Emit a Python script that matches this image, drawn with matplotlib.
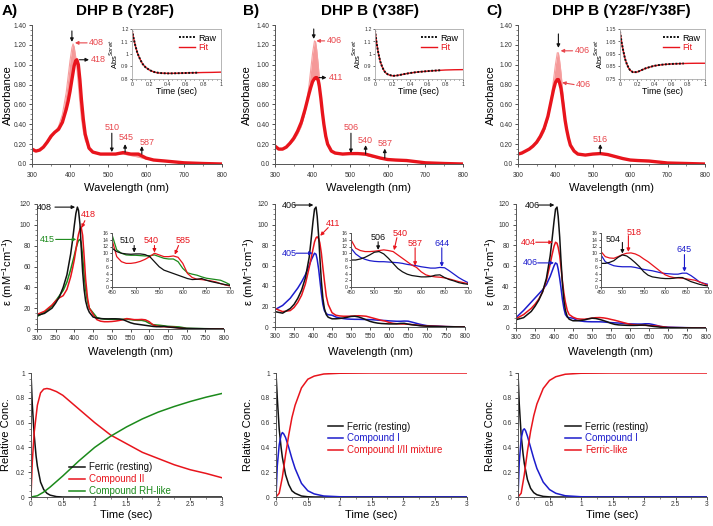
import matplotlib
matplotlib.use('Agg')

import matplotlib.pyplot as plt
from matplotlib.ticker import MultipleLocator

plt.rcParams['font.family'] = ['Liberation Sans', 'DejaVu Sans']
plt.rcParams['mathtext.fontset'] = 'custom'
plt.rcParams['mathtext.rm'] = 'Liberation Sans'

W, H = 713, 526

# ---------------- data ----------------
panel_letters = ['A)', 'B)', 'C)']
panel_titles = ['DHP B (Y28F)', 'DHP B (Y38F)', 'DHP B (Y28F/Y38F)']

# stopped-flow spectra (first and last trace)
wl_top = [300, 310, 320, 330, 340, 350, 360, 370, 380, 390,
          395, 400, 405, 408, 411, 415, 418, 422, 426, 430,
          435, 440, 450, 460, 480, 500, 520, 540, 560, 580,
          600, 620, 650, 700, 750, 800]
abs_a_first = [.15, .13, .14, .17, .21, .26, .32, .38, .50, .72,
               .88, 1.04, 1.17, 1.21, 1.18, 1.08, .97, .80, .62, .46,
               .33, .24, .15, .12, .10, .10, .10, .10, .085, .07,
               .05, .04, .03, .012, .005, 0]
abs_a_last = [.15, .13, .14, .17, .22, .28, .32, .35, .42, .55,
              .63, .73, .85, .92, .99, 1.04, 1.05, 1.00, .85, .65,
              .45, .30, .16, .12, .10, .10, .10, .115, .10, .10,
              .06, .04, .03, .012, .005, 0]
abs_b_first = [.18, .15, .15, .17, .20, .24, .30, .38, .52, .78,
               .95, 1.12, 1.24, 1.23, 1.15, 1.00, .86, .66, .50, .37,
               .26, .19, .13, .11, .10, .10, .10, .09, .07, .055,
               .04, .035, .03, .01, .005, 0]
abs_b_last = [.18, .15, .15, .17, .21, .26, .33, .42, .55, .70,
              .77, .83, .86, .87, .87, .84, .78, .66, .52, .40,
              .28, .20, .13, .11, .10, .105, .105, .10, .08, .06,
              .045, .04, .035, .012, .005, 0]
abs_c_first = [.10, .11, .13, .15, .18, .21, .26, .33, .46, .70,
               .85, 1.00, 1.12, 1.12, 1.05, .92, .80, .62, .47, .36,
               .26, .19, .13, .10, .09, .10, .10, .09, .07, .05,
               .04, .035, .03, .01, .005, 0]
abs_c_last = [.10, .11, .13, .15, .18, .22, .28, .36, .48, .66,
              .75, .82, .85, .85, .82, .76, .68, .56, .44, .35,
              .26, .19, .13, .10, .09, .10, .105, .095, .075, .055,
              .04, .035, .03, .01, .005, 0]

abs_ticks = [0, 0.2, 0.4, 0.6, 0.8, 1.0, 1.2, 1.4]
abs_tick_labels = ['0.0', '0.20', '0.40', '0.60', '0.80', '1.00', '1.20', '1.40']

# Soret kinetic traces (insets)
t_raw = [0, .02, .04, .06, .08, .1, .12, .15, .2, .25, .3, .35, .4, .45, .5,
         .55, .6, .65, .7, .75]
soret_a_raw = [1.19, 1.12, 1.06, 1.01, .975, .945, .92, .895, .87, .856, .849,
               .846, .845, .845, .846, .847, .848, .849, .85, .851]
soret_b_raw = [1.19, 1.08, 1.0, .94, .90, .87, .85, .835, .825, .828, .835,
               .842, .848, .853, .857, .860, .863, .866, .868, .870]
soret_c_raw = [1.13, 1.04, .97, .91, .87, .84, .82, .805, .805, .82, .835,
               .846, .855, .861, .865, .868, .870, .872, .873, .874]
t_fit = [0, .02, .04, .06, .08, .1, .12, .15, .2, .25, .3, .4, .5, .6, .7, .8, .9, 1.0]
soret_a_fit = [1.19, 1.12, 1.06, 1.01, .975, .945, .92, .895, .87, .855, .848,
               .845, .846, .848, .85, .852, .853, .855]
soret_b_fit = [1.19, 1.08, 1.0, .94, .90, .87, .85, .835, .825, .828, .835,
               .848, .857, .863, .868, .872, .874, .875]
soret_c_fit = [1.13, 1.04, .97, .91, .87, .84, .82, .805, .805, .82, .835,
               .855, .865, .870, .873, .875, .876, .876]
soret_ylims = [(0.8, 1.2), (0.8, 1.2), (0.75, 1.15)]
soret_ticks = [[0.8, 0.9, 1.0, 1.1, 1.2], [0.8, 0.9, 1.0, 1.1, 1.2],
               [0.75, 0.85, 0.95, 1.05, 1.15]]
soret_tick_labels = [['0.8', '0.9', '1', '1.1', '1.2'], ['0.8', '0.9', '1', '1.1', '1.2'],
                     ['0.75', '0.85', '0.95', '1.05', '1.15']]

# calculated component spectra
wl_eps = [300, 320, 340, 350, 360, 370, 380, 390, 395, 400,
          404, 408, 411, 415, 418, 422, 426, 430, 435, 440,
          450, 460, 470, 480, 490, 500, 510, 520, 530, 540,
          550, 560, 570, 580, 590, 600, 610, 620, 630, 640,
          650, 660, 670, 680, 690, 700, 750, 800]
eps_a_ferric = [13, 15, 20, 25, 31, 40, 52, 72, 85, 100,
                111, 117, 114, 100, 80, 55, 38, 27, 20, 16,
                11.5, 10.5, 10, 9.8, 9.7, 9.8, 9.8, 9.6, 9, 7.5,
                6, 5, 4.5, 4, 3.5, 3, 2.5, 2.2, 2.3, 2.5,
                2, 1.6, 1.3, 1, 0.7, 0.5, 0.2, 0]
eps_a_cpd2 = [14, 17, 23, 27, 30, 32, 38, 50, 58, 67,
              76, 85, 91, 96, 98, 90, 70, 48, 30, 20,
              14, 9, 7.5, 7, 7, 7.2, 7.6, 8.2, 9, 10,
              9.5, 9, 9, 9.2, 8.8, 7, 4, 2.8, 2.3, 2.2,
              2, 1.8, 1.5, 1, 0.6, 0.3, 0.1, 0]
eps_a_rh = [12, 16, 22, 27, 32, 37, 45, 57, 64, 71,
            77, 82, 85, 86, 83, 70, 52, 38, 26, 20,
            15.5, 11, 10, 9.5, 9.4, 9.4, 9.3, 9.2, 9.3, 9.5,
            9, 8.5, 8.3, 8.3, 7.5, 5.5, 4.2, 3.8, 3.5, 3,
            2.6, 2.4, 2.2, 2, 1.4, 0.7, 0.3, 0]
eps_b_ferric = [15, 13.5, 18, 22, 28, 36, 48, 68, 85, 103,
                115, 117, 108, 88, 68, 45, 28, 18, 12, 9.5,
                8, 8, 8.3, 8.8, 9.5, 10.3, 10.5, 9.8, 8.5, 7,
                5.5, 4.5, 3.8, 3.4, 3.2, 3, 3, 3.1, 3.5, 3.6,
                2.8, 2.2, 1.8, 1.3, 1, 0.8, 0.3, 0]
eps_b_mix = [18, 15, 16, 19, 24, 31, 42, 58, 67, 76,
             83, 87, 88, 86, 82, 72, 58, 45, 30, 22,
             14, 11.5, 10.8, 10.5, 10.5, 10.6, 10.8, 11, 10.8, 10.5,
             9.5, 8.5, 7.5, 6.5, 5.8, 4.5, 3.6, 3.2, 3, 2.9,
             2.7, 2.4, 2, 1.6, 1.3, 1, 0.4, 0]
eps_b_cpd1 = [17, 21, 28, 33, 38, 44, 51, 60, 65, 69,
              72, 71, 66, 56, 46, 33, 22, 16, 13, 12,
              11.5, 9.8, 8.8, 8.2, 7.8, 7.6, 7.5, 7.5, 7.4, 7.3,
              7.2, 7, 6.7, 6.5, 6.3, 6, 5.8, 5.6, 5.6, 5.8,
              5.7, 4.8, 3.8, 2.8, 2, 1.3, 0.4, 0]
eps_c_ferric = [8, 10, 16, 21, 27, 35, 48, 70, 86, 103,
                115, 117, 108, 88, 68, 44, 27, 17, 11, 8.5,
                7, 7, 7.3, 7.8, 8.8, 9.5, 9.2, 8.3, 7.2, 6,
                4.5, 3.5, 3, 2.8, 2.6, 2.5, 2.5, 2.6, 2.8, 2.8,
                2.2, 1.6, 1.2, 0.8, 0.5, 0.3, 0.1, 0]
eps_c_flike = [9, 13, 19, 23, 28, 35, 46, 62, 71, 79,
               83, 82, 78, 70, 60, 46, 34, 25, 17, 13,
               10.5, 9, 8.6, 8.5, 9, 9.6, 10, 10.1, 9.8, 9.2,
               8.3, 7.5, 6.5, 5.5, 4.5, 3.6, 3.1, 2.8, 2.7, 2.6,
               2.4, 2.2, 2, 1.5, 1, 0.5, 0.2, 0]
eps_c_cpd1 = [10, 17, 25, 29, 33, 37, 42, 50, 55, 60,
              63, 62, 57, 48, 40, 28, 19, 13, 10.5, 10,
              9.5, 7.5, 6.8, 6.3, 6.1, 6, 6, 6, 5.8, 5.5,
              5.2, 5, 4.8, 4.5, 4.2, 4, 3.9, 3.8, 3.8, 4.1,
              4.1, 3.4, 2.5, 1.5, 1.1, 0.8, 0.3, 0]

# species concentration vs time
t_a_ferric = [0, .02, .05, .08, .1, .15, .2, .25, .3, .4, .5, 3]
conc_a_ferric = [1, .75, .5, .33, .25, .12, .06, .03, .015, .003, 0, 0]
t_a_cpd2 = [0, .02, .05, .1, .15, .2, .25, .3, .4, .5, .75, 1, 1.25, 1.5, 1.75, 2, 2.25, 2.5, 2.75, 3]
conc_a_cpd2 = [0, .28, .52, .74, .84, .87, .875, .87, .85, .82, .71, .6, .5, .43, .36, .31, .26, .22, .19, .155]
t_a_rh = [0, .1, .2, .3, .5, .75, 1, 1.25, 1.5, 1.75, 2, 2.25, 2.5, 2.75, 3]
conc_a_rh = [0, .01, .04, .08, .17, .29, .40, .49, .565, .63, .685, .73, .77, .805, .835]

t_b_ferric = [0, .02, .05, .08, .1, .15, .2, .25, .3, .4, .5, .6, 3]
conc_b_ferric = [1, .8, .55, .4, .32, .18, .1, .05, .03, .008, .002, 0, 0]
t_b_cpd1 = [0, .02, .05, .08, .1, .12, .15, .2, .25, .3, .4, .5, .6, .75, 1, 1.2, 3]
conc_b_cpd1 = [0, .25, .42, .5, .52, .51, .48, .40, .31, .23, .11, .05, .025, .008, .002, 0, 0]
t_b_mix = [0, .05, .1, .15, .2, .25, .3, .4, .5, .6, .75, 1, 1.5, 3]
conc_b_mix = [0, .03, .16, .34, .5, .64, .74, .88, .95, .975, .992, .998, 1, 1]

t_c_ferric = [0, .02, .05, .08, .1, .15, .2, .25, .3, .4, .5, .6, 3]
conc_c_ferric = [1, .75, .5, .35, .27, .14, .07, .035, .018, .005, .001, 0, 0]
t_c_cpd1 = [0, .02, .05, .08, .1, .12, .15, .2, .25, .3, .4, .5, .6, .75, 1, 1.2, 3]
conc_c_cpd1 = [0, .28, .47, .54, .55, .535, .49, .40, .31, .23, .12, .06, .03, .01, .002, 0, 0]
t_c_flike = [0, .05, .1, .15, .2, .25, .3, .4, .5, .6, .75, 1, 1.5, 3]
conc_c_flike = [0, .03, .18, .37, .53, .655, .75, .875, .94, .97, .99, .998, 1, 1]

BLACK = '#111111'
RED = '#e8141c'
LRED = '#e8464c'
GREEN = '#1b8a1b'
BLUE = '#1c1ccc'


def rect(x0, y0, x1, y1):
    return [x0 / W, 1 - y1 / H, (x1 - x0) / W, (y1 - y0) / H]


def style(ax, fs=4.8):
    for s in ['top', 'right']:
        ax.spines[s].set_visible(False)
    for s in ['left', 'bottom']:
        ax.spines[s].set_color('#555555')
        ax.spines[s].set_linewidth(0.7)
    ax.tick_params(labelsize=fs, length=2.5, width=0.6, pad=2, colors='#333333')
    ax.tick_params(which='minor', length=1.5, width=0.5, colors='#555555')


def arrow(ax, tail, head, color, lw=0.8, ms=5):
    ax.annotate('', xy=head, xytext=tail,
                arrowprops=dict(arrowstyle='-|>', color=color, lw=lw,
                                mutation_scale=ms, shrinkA=0, shrinkB=0))


def ftext(x, y, s, **kw):
    plt.gcf().text(x / W, 1 - y / H, s, ha='center', va='center', **kw)


fig = plt.figure(figsize=(W / 100, H / 100), dpi=100)

cols_x = [(32, 222), (275, 463), (518, 705)]
mid_x = [(37, 224), (275, 465), (516, 706)]
bot_x = [(31, 222), (276, 467), (518, 707)]
inset_top_x = [(132, 221), (375, 463), (620, 705)]
inset_mid_x = [(112, 230), (351, 468), (601, 708)]
title_x = [125, 370, 621]
letter_x = [10, 251, 494]
ylab_x = [[8, 247, 491], [8, 249, 491], [6, 248, 490]]

firsts = [abs_a_first, abs_b_first, abs_c_first]
lasts = [abs_a_last, abs_b_last, abs_c_last]
raws = [soret_a_raw, soret_b_raw, soret_c_raw]
fits = [soret_a_fit, soret_b_fit, soret_c_fit]

for i in range(3):
    ftext(letter_x[i], 11, panel_letters[i], fontsize=11, fontweight='bold')
    ftext(title_x[i], 11, panel_titles[i], fontsize=11, fontweight='bold')

    # ---- top: absorbance spectra ----
    x0, x1 = cols_x[i]
    ax = fig.add_axes(rect(x0, 25, x1, 164))
    style(ax)
    ax.tick_params(axis='x', pad=3.5)
    ax.tick_params(axis='y', pad=1.5)
    ax.fill_between(wl_top, firsts[i], lasts[i], color='#ef5555', alpha=0.6, lw=0)
    ax.plot(wl_top, firsts[i], color='#f6a0a0', lw=0.8)
    ax.plot(wl_top, lasts[i], color=RED, lw=2.4)
    ax.set_xlim(300, 800)
    ax.set_ylim(0, 1.4)
    ax.set_xticks([300, 400, 500, 600, 700, 800])
    ax.xaxis.set_minor_locator(MultipleLocator(50))
    ax.set_yticks(abs_ticks)
    ax.set_yticklabels(abs_tick_labels)
    ax.yaxis.set_minor_locator(MultipleLocator(0.05))
    ftext((x0 + x1) / 2, 188, 'Wavelength (nm)', fontsize=8)
    ftext(ylab_x[0][i], 95, 'Absorbance', fontsize=8, rotation=90)

    if i == 0:
        arrow(ax, (405, 1.34), (405, 1.23), BLACK)
        arrow(ax, (445, 1.22), (413, 1.22), LRED)
        ax.text(450, 1.22, '408', color=LRED, fontsize=6.5, va='center')
        arrow(ax, (425, 1.05), (450, 1.05), BLACK)
        ax.text(455, 1.05, '418', color=LRED, fontsize=6.5, va='center')
        arrow(ax, (510, 0.31), (510, 0.12), BLACK)
        ax.text(510, 0.37, '510', color=LRED, fontsize=6.5, ha='center', va='center')
        arrow(ax, (545, 0.12), (545, 0.20), BLACK)
        ax.text(548, 0.265, '545', color=LRED, fontsize=6.5, ha='center', va='center')
        arrow(ax, (589, 0.10), (589, 0.18), BLACK)
        ax.text(603, 0.22, '587', color=LRED, fontsize=6.5, ha='center', va='center')
    elif i == 1:
        arrow(ax, (403, 1.36), (403, 1.26), BLACK)
        arrow(ax, (432, 1.24), (410, 1.24), LRED)
        ax.text(437, 1.24, '406', color=LRED, fontsize=6.5, va='center')
        arrow(ax, (417, 0.87), (437, 0.87), BLACK)
        ax.text(442, 0.87, '411', color=LRED, fontsize=6.5, va='center')
        arrow(ax, (502, 0.31), (502, 0.11), BLACK)
        ax.text(502, 0.365, '506', color=LRED, fontsize=6.5, ha='center', va='center')
        arrow(ax, (541, 0.10), (541, 0.19), BLACK)
        ax.text(541, 0.24, '540', color=LRED, fontsize=6.5, ha='center', va='center')
        arrow(ax, (592, 0.06), (592, 0.155), BLACK)
        ax.text(594, 0.21, '587', color=LRED, fontsize=6.5, ha='center', va='center')
    else:
        arrow(ax, (408, 1.31), (408, 1.17), BLACK)
        arrow(ax, (446, 1.14), (414, 1.14), LRED)
        ax.text(451, 1.14, '406', color=LRED, fontsize=6.5, va='center')
        arrow(ax, (450, 0.80), (418, 0.82), LRED)
        ax.text(455, 0.80, '406', color=LRED, fontsize=6.5, va='center')
        arrow(ax, (520, 0.11), (520, 0.20), BLACK)
        ax.text(520, 0.245, '516', color=LRED, fontsize=6.5, ha='center', va='center')

    # inset: Soret kinetics
    ix0, ix1 = inset_top_x[i]
    ins = fig.add_axes(rect(ix0, 29, ix1, 79))
    for s in ins.spines.values():
        s.set_color('#aaaaaa')
        s.set_linewidth(0.6)
    ins.tick_params(labelsize=3.8, length=1.5, width=0.5, pad=1, colors='#333333')
    ins.plot(t_fit, fits[i], color=RED, lw=1.0, zorder=1)
    ins.plot(t_raw, raws[i], color=BLACK, lw=1.4, ls=(0, (1, 0.8)), zorder=2)
    ins.set_xlim(0, 1)
    ins.set_ylim(*soret_ylims[i])
    ins.set_xticks([0, 0.2, 0.4, 0.6, 0.8, 1.0])
    ins.set_xticklabels(['0', '0.2', '0.4', '0.6', '0.8', '1'])
    ins.xaxis.set_minor_locator(MultipleLocator(0.05))
    ins.tick_params(which='minor', length=1, width=0.4)
    ins.set_yticks(soret_ticks[i])
    ins.set_yticklabels(soret_tick_labels[i])
    ins.set_xlabel('Time (sec)', fontsize=6.3, labelpad=0)
    ins.set_ylabel('Abs$^{Soret}$', fontsize=5.5, labelpad=1)
    lg = ins.legend(['Fit', 'Raw'], loc='upper right', frameon=False, fontsize=6.5,
                    handlelength=1.8, handletextpad=0.4, borderaxespad=0.1,
                    labelspacing=0.1)
    h = lg.legend_handles
    lg.remove()
    lg = ins.legend([h[1], h[0]], ['Raw', 'Fit'], loc='upper right', frameon=False,
                    fontsize=6.5, handlelength=1.8, handletextpad=0.4,
                    borderaxespad=0.1, labelspacing=0.1)
    lg.get_texts()[1].set_color(RED)

# ---- middle: component spectra ----
mid_sets = [
    [(eps_a_rh, GREEN), (eps_a_cpd2, RED), (eps_a_ferric, BLACK)],
    [(eps_b_cpd1, BLUE), (eps_b_mix, RED), (eps_b_ferric, BLACK)],
    [(eps_c_cpd1, BLUE), (eps_c_flike, RED), (eps_c_ferric, BLACK)],
]
mid_bottoms = [329, 327, 328]
for i in range(3):
    x0, x1 = mid_x[i]
    ax = fig.add_axes(rect(x0, 204, x1, mid_bottoms[i]))
    style(ax)
    for vals, c in mid_sets[i]:
        ax.plot(wl_eps, vals, color=c, lw=1.1)
    ax.set_xlim(300, 800)
    ax.set_ylim(0, 120)
    ax.set_xticks(range(300, 801, 50))
    ax.set_yticks(range(0, 121, 20))
    ax.yaxis.set_minor_locator(MultipleLocator(5))
    ftext((x0 + x1) / 2, 352, 'Wavelength (nm)', fontsize=8)
    ftext(ylab_x[1][i], 272, r'ε (mM$^{-1}$cm$^{-1}$)', fontsize=8, rotation=90)

    ix0, ix1 = inset_mid_x[i]
    ins = fig.add_axes(rect(ix0, 233, ix1, 287))
    style(ins, fs=3.8)
    ins.tick_params(length=1.5, pad=1)
    for vals, c in mid_sets[i]:
        ins.plot(wl_eps, vals, color=c, lw=0.9)
    ins.set_xlim(450, 700)
    ins.set_ylim(0, 16)
    ins.set_xticks(range(450, 701, 50))
    ins.set_yticks(range(0, 17, 2))

    if i == 0:
        arrow(ax, (348, 117), (402, 117), BLACK)
        ax.text(320, 117, '408', color=BLACK, fontsize=6.5, ha='center', va='center')
        arrow(ax, (428, 104), (419, 97), RED)
        ax.text(436, 110, '418', color=RED, fontsize=6.5, ha='center', va='center')
        arrow(ax, (350, 86), (405, 86), GREEN)
        ax.text(327, 86, '415', color=GREEN, fontsize=6.5, ha='center', va='center')
        arrow(ins, (497, 12.3), (497, 10.2), BLACK)
        ins.text(483, 13.8, '510', color=BLACK, fontsize=6.5, ha='center', va='center')
        arrow(ins, (540, 12.3), (540, 10.2), RED)
        ins.text(533, 13.8, '540', color=RED, fontsize=6.5, ha='center', va='center')
        arrow(ins, (591, 12.3), (583, 9.6), RED)
        ins.text(600, 13.8, '585', color=RED, fontsize=6.5, ha='center', va='center')
    elif i == 1:
        arrow(ax, (352, 119), (401, 119), BLACK)
        ax.text(337, 119, '406', color=BLACK, fontsize=6.5, ha='center', va='center')
        arrow(ax, (440, 97), (419, 89), RED)
        ax.text(453, 101, '411', color=RED, fontsize=6.5, ha='center', va='center')
        arrow(ax, (355, 72), (399, 72), BLUE)
        ax.text(338, 72, '405', color=BLUE, fontsize=6.5, ha='center', va='center')
        arrow(ins, (508, 13.4), (508, 11.0), BLACK)
        ins.text(508, 14.8, '506', color=BLACK, fontsize=6.5, ha='center', va='center')
        arrow(ins, (548, 14.6), (542, 10.9), RED)
        ins.text(555, 16.0, '540', color=RED, fontsize=6.5, ha='center', va='center')
        arrow(ins, (587, 11.6), (587, 6.3), RED)
        ins.text(587, 13.0, '587', color=RED, fontsize=6.5, ha='center', va='center')
        arrow(ins, (644, 11.6), (644, 6.0), BLUE)
        ins.text(644, 13.0, '644', color=BLUE, fontsize=6.5, ha='center', va='center')
    else:
        arrow(ax, (358, 119), (401, 119), BLACK)
        ax.text(342, 119, '406', color=BLACK, fontsize=6.5, ha='center', va='center')
        arrow(ax, (352, 83), (397, 83), RED)
        ax.text(333, 83, '404', color=RED, fontsize=6.5, ha='center', va='center')
        arrow(ax, (357, 63), (400, 63), BLUE)
        ax.text(338, 63, '406', color=BLUE, fontsize=6.5, ha='center', va='center')
        arrow(ins, (500, 13.2), (500, 9.9), BLACK)
        ins.text(478, 14.2, '504', color=BLACK, fontsize=6.5, ha='center', va='center')
        arrow(ins, (514, 15.2), (514, 10.4), RED)
        ins.text(528, 16.2, '518', color=RED, fontsize=6.5, ha='center', va='center')
        arrow(ins, (645, 9.6), (645, 4.5), BLUE)
        ins.text(645, 11.0, '645', color=BLUE, fontsize=6.5, ha='center', va='center')

# ---- bottom: species vs time ----
bot_sets = [
    [(t_a_ferric, conc_a_ferric, BLACK, 'Ferric (resting)'),
     (t_a_cpd2, conc_a_cpd2, RED, 'Compound II'),
     (t_a_rh, conc_a_rh, GREEN, 'Compound RH-like')],
    [(t_b_ferric, conc_b_ferric, BLACK, 'Ferric (resting)'),
     (t_b_cpd1, conc_b_cpd1, BLUE, 'Compound I'),
     (t_b_mix, conc_b_mix, RED, 'Compound I/II mixture')],
    [(t_c_ferric, conc_c_ferric, BLACK, 'Ferric (resting)'),
     (t_c_cpd1, conc_c_cpd1, BLUE, 'Compound I'),
     (t_c_flike, conc_c_flike, RED, 'Ferric-like')],
]
leg_anchor = [(0.18, 0.31), (0.25, 0.64), (0.23, 0.64)]
for i in range(3):
    x0, x1 = bot_x[i]
    ax = fig.add_axes(rect(x0, 373, x1, 497))
    style(ax)
    ax.tick_params(axis='x', length=2, pad=1)
    lines = []
    for t, c, col, lab in bot_sets[i]:
        ln, = ax.plot(t, c, color=col, lw=1.1, label=lab)
        lines.append(ln)
    ax.set_xlim(0, 3)
    ax.set_ylim(0, 1)
    ax.set_xticks([0, 0.5, 1, 1.5, 2, 2.5, 3])
    ax.set_xticklabels(['0', '0.5', '1', '1.5', '2', '2.5', '3'])
    ax.set_yticks([0, 0.2, 0.4, 0.6, 0.8, 1])
    ax.set_yticklabels(['0', '0.2', '0.4', '0.6', '0.8', '1'])
    ax.yaxis.set_minor_locator(MultipleLocator(0.05))
    ax.xaxis.set_minor_locator(MultipleLocator(0.25))
    lg = ax.legend(handles=lines, loc='upper left', bbox_to_anchor=leg_anchor[i],
                   frameon=False, fontsize=7, handlelength=1.6, handletextpad=0.4,
                   labelspacing=0.2, borderaxespad=0)
    for txt, (_, _, col, _) in zip(lg.get_texts(), bot_sets[i]):
        txt.set_color(col)
    ftext((x0 + x1) / 2, 515, 'Time (sec)', fontsize=8)
    ftext(ylab_x[2][i], 435, 'Relative Conc.', fontsize=8, rotation=90)

plt.savefig('out.png', dpi=100)
